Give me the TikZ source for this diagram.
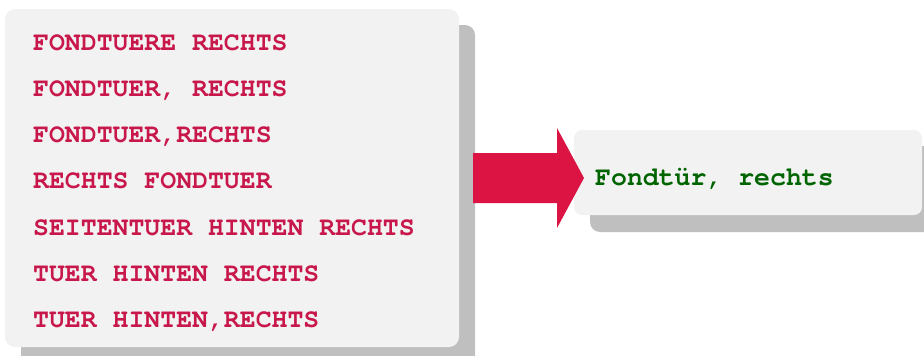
\documentclass[tikz,border=0pt]{standalone}
\usepackage[T1]{fontenc}
\definecolor{kastengrau}{HTML}{F2F2F2}
\definecolor{schattengrau}{HTML}{BFBFBF}
\definecolor{wortrot}{HTML}{C8174B}
\definecolor{pfeilrot}{HTML}{DC1443}
\definecolor{zielgruen}{HTML}{006400}

\begin{document}
\begin{tikzpicture}[x=1pt,y=-1pt,
	wort/.style={anchor=base west,inner sep=0pt,font=\fontfamily{pcr}\fontseries{b}\fontsize{26.5}{30}\selectfont},
	kasten/.style={fill=kastengrau,rounded corners=10pt},
	schatten/.style={fill=schattengrau,rounded corners=10pt}]
	\clip (0,0) rectangle (924,356) ;
%%% Kasten links mit Schatten
	\fill[schatten] (21,25) rectangle (475,366) ;
	\fill[kasten] (5,9) rectangle (459,347) ;
%%% Schreibweisen
	\foreach \wort [count=\i] in {FONDTUERE RECHTS,{FONDTUER, RECHTS},{FONDTUER,RECHTS},RECHTS FONDTUER,SEITENTUER HINTEN RECHTS,TUER HINTEN RECHTS,{TUER HINTEN,RECHTS}}{
		\node[wort,text=wortrot] (quelle\i) at (33,{50+46.3*(\i-1)}) {\wort} ;
	}
%%% Kasten rechts mit Schatten
	\fill[schatten] (590,146) rectangle (944,232) ;
	\fill[kasten,rounded corners=8pt] (574,130) rectangle (922,215) ;
	\node[wort,text=zielgruen] (ziel) at (595,185) {Fondtür, rechts} ;
%%% Pfeil
	\coordinate (pfeilanfang) at (473,178) ;
	\coordinate (pfeilspitze) at (584,178) ;
	\fill[pfeilrot] (pfeilanfang) ++(0,-25) -- ++(84,0) -- ++(0,-25) -- (pfeilspitze)
		-- ++(-27,50) -- ++(0,-25) -- ++(-84,0) -- cycle ;
\end{tikzpicture}
\end{document}
